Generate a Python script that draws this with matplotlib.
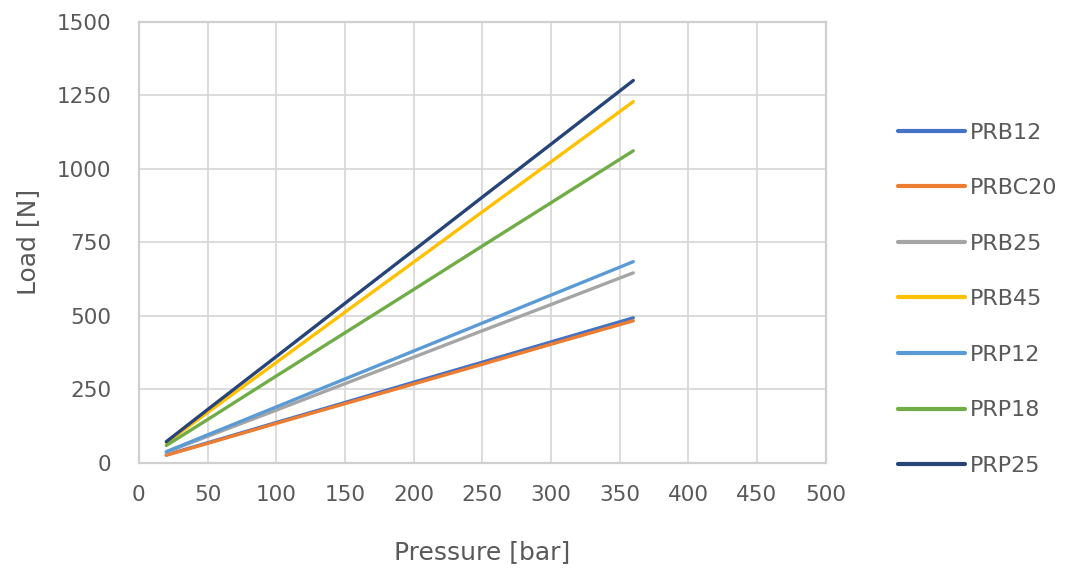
import matplotlib
matplotlib.use("Agg")
import matplotlib.pyplot as plt

pressure = [20, 50, 100, 150, 200, 250, 300, 360]
series_names = ["PRB12", "PRBC20", "PRB25", "PRB45", "PRP12", "PRP18", "PRP25"]
prb12 = [27, 68, 137, 205, 274, 342, 411, 493]
prbc20 = [26, 66, 134, 201, 268, 335, 403, 483]
prb25 = [36, 90, 179, 269, 359, 449, 538, 646]
prb45 = [68, 171, 341, 512, 682, 853, 1023, 1228]
prp12 = [38, 95, 190, 285, 380, 475, 570, 684]
prp18 = [59, 147, 295, 442, 589, 737, 884, 1061]
prp25 = [72, 181, 361, 542, 722, 903, 1083, 1300]
colors = ["#4472C4", "#ED7D31", "#A5A5A5", "#FFC000", "#5B9BD5", "#70AD47", "#264478"]
xticks = [0, 50, 100, 150, 200, 250, 300, 350, 400, 450, 500]
yticks = [0, 250, 500, 750, 1000, 1250, 1500]

fig = plt.figure(figsize=(10.68, 5.70), dpi=100)
ax = fig.add_axes([0.130, 0.188, 0.643, 0.774])
for name, vals, c in zip(series_names, [prb12, prbc20, prb25, prb45, prp12, prp18, prp25], colors):
    ax.plot(pressure, vals, color=c, lw=2.4, label=name, solid_capstyle="round")

ax.set_xlim(0, 500)
ax.set_ylim(0, 1500)
ax.set_xticks(xticks)
ax.set_yticks(yticks)
ax.grid(True, color="#D9D9D9", lw=1.3)
ax.set_axisbelow(True)
for s in ax.spines.values():
    s.set_color("#D0D0D0")
    s.set_linewidth(1.6)
ax.tick_params(length=0, labelsize=15.5, labelcolor="#595959")
ax.tick_params(axis="y", pad=20)
ax.tick_params(axis="x", pad=16)
ax.set_xlabel("Pressure [bar]", fontsize=18, color="#595959", labelpad=25)
ax.set_ylabel("Load [N]", fontsize=18, color="#595959", labelpad=12)

leg = fig.legend(loc="upper left", bbox_to_anchor=(0.822, 0.82), frameon=False,
                 fontsize=16, labelspacing=1.6, handlelength=3.0, handletextpad=0.25)
for t in leg.get_texts():
    t.set_color("#595959")
for h in leg.get_lines():
    h.set_linewidth(3)

fig.savefig("out.png", dpi=100)
